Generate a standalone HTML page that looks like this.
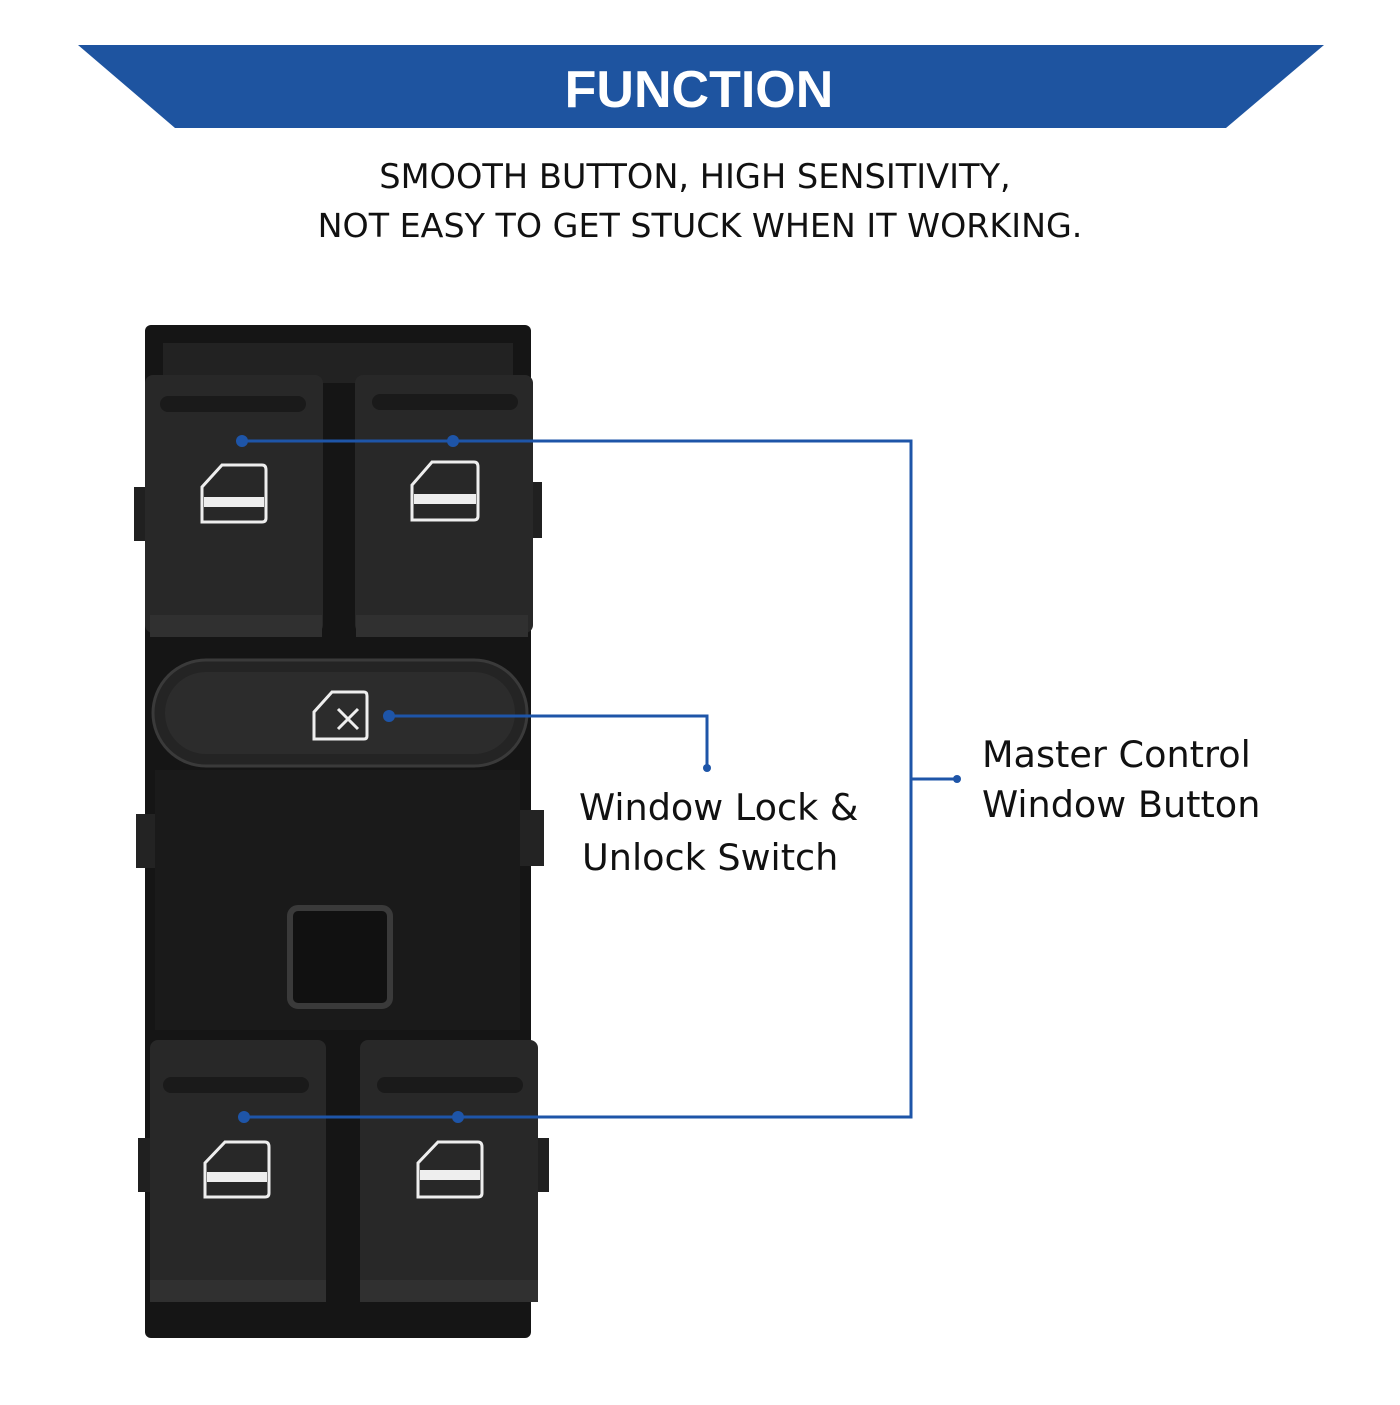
<!DOCTYPE html>
<html><head><style>
html,body{margin:0;padding:0;background:#fff;}
body{width:1400px;height:1400px;overflow:hidden;}
</style></head><body>
<svg width="1400" height="1400" viewBox="0 0 1400 1400" xmlns="http://www.w3.org/2000/svg">
<rect width="1400" height="1400" fill="#fff"/>
<polygon points="78,45 1324,45 1226,128 175,128" fill="#1e54a0"/>
<text x="699" y="107" text-anchor="middle" font-family="Liberation Sans, sans-serif" font-weight="bold" font-size="52" fill="#fff">FUNCTION</text>
<text x="695" y="188" text-anchor="middle" font-family="DejaVu Sans, sans-serif" font-size="33.6" fill="#111">SMOOTH BUTTON, HIGH SENSITIVITY,</text>
<text x="700" y="237" text-anchor="middle" font-family="DejaVu Sans, sans-serif" font-size="33.3" fill="#111">NOT EASY TO GET STUCK WHEN IT WORKING.</text>

<rect x="145" y="325" width="386" height="1013" rx="6" fill="#151515"/>
<rect x="163" y="343" width="350" height="40" fill="#222"/>
<rect x="134" y="487" width="14" height="54" fill="#202020"/>
<rect x="528" y="482" width="14" height="56" fill="#202020"/>
<rect x="136" y="814" width="28" height="54" fill="#232323"/>
<rect x="516" y="810" width="28" height="56" fill="#232323"/>
<rect x="138" y="1138" width="14" height="54" fill="#202020"/>
<rect x="535" y="1138" width="14" height="54" fill="#202020"/>
<rect x="155" y="770" width="365" height="260" fill="#1a1a1a"/>
<rect x="290" y="908" width="100" height="98" rx="8" fill="#111" stroke="#3a3a3a" stroke-width="6"/>

<g>
<rect x="145" y="375" width="178" height="258" rx="8" fill="#282828"/>
<rect x="150" y="615" width="172" height="22" fill="#303030"/>
<rect x="160" y="396" width="146" height="16" rx="8" fill="#1a1a1a"/>
<rect x="355" y="375" width="178" height="258" rx="8" fill="#282828"/>
<rect x="356" y="615" width="172" height="22" fill="#303030"/>
<rect x="372" y="394" width="146" height="16" rx="8" fill="#1a1a1a"/>
</g>
<g>
<rect x="150" y="1040" width="176" height="258" rx="8" fill="#282828"/>
<rect x="360" y="1040" width="178" height="258" rx="8" fill="#282828"/>
<rect x="163" y="1077" width="146" height="16" rx="8" fill="#1a1a1a"/>
<rect x="377" y="1077" width="146" height="16" rx="8" fill="#1a1a1a"/>
<rect x="150" y="1280" width="176" height="22" fill="#303030"/>
<rect x="360" y="1280" width="178" height="22" fill="#303030"/>
</g>
<rect x="153" y="660" width="374" height="106" rx="53" fill="#242424" stroke="#3a3a3a" stroke-width="3"/>
<rect x="165" y="672" width="350" height="82" rx="41" fill="#2c2c2c"/>

<g fill="none" stroke="#eee" stroke-width="3">
<path d="M202,522 L202,487 L222,465 L262,465 Q266,465 266,470 L266,518 Q266,522 262,522 Z"/>
<path d="M412,520 L412,485 L432,462 L474,462 Q478,462 478,467 L478,516 Q478,520 474,520 Z"/>
<path d="M205,1197 L205,1163 L225,1142 L265,1142 Q269,1142 269,1147 L269,1193 Q269,1197 265,1197 Z"/>
<path d="M418,1197 L418,1163 L438,1142 L478,1142 Q482,1142 482,1147 L482,1193 Q482,1197 478,1197 Z"/>
<path d="M314,739 L314,712 L332,692 L364,692 Q367,692 367,696 L367,736 Q367,739 364,739 Z"/>
</g>
<g fill="#eee">
<rect x="204" y="497" width="60" height="10"/>
<rect x="414" y="494" width="62" height="10"/>
<rect x="207" y="1172" width="60" height="10"/>
<rect x="420" y="1170" width="60" height="10"/>
</g>
<path d="M338,709 L358,729 M358,709 L338,729" stroke="#eee" stroke-width="3"/>

<g stroke="#1e55a8" stroke-width="3" fill="none">
<path d="M242,441 L911,441 L911,1117 L244,1117"/>
<path d="M911,779 L957,779"/>
<path d="M389,716 L707,716 L707,768"/>
</g>
<g fill="#1e55a8">
<circle cx="242" cy="441" r="6"/><circle cx="453" cy="441" r="6"/>
<circle cx="244" cy="1117" r="6"/><circle cx="458" cy="1117" r="6"/>
<circle cx="389" cy="716" r="6"/><circle cx="707" cy="768" r="4"/>
<circle cx="957" cy="779" r="4"/>
</g>
<g font-family="DejaVu Sans, sans-serif" font-size="36.6" fill="#111">
<text x="982" y="767">Master Control</text>
<text x="982" y="817">Window Button</text>
<text x="579" y="820">Window Lock &amp;</text>
<text x="582" y="870">Unlock Switch</text>
</g>
</svg>
</body></html>
